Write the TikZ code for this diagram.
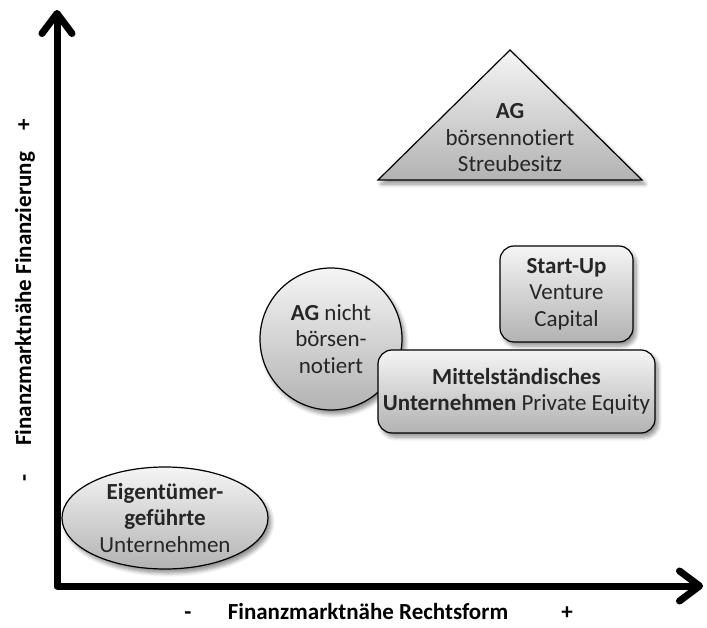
\documentclass[tikz,border=0pt]{standalone}
\usepackage{fontspec}
\setmainfont[Ligatures=NoCommon]{Carlito}
\usetikzlibrary{arrows.meta,shapes.geometric,shadows.blur}
\begin{document}
\begin{tikzpicture}[x=1pt,y=-1pt,
  every node/.style={font=\fontsize{23}{26.5}\selectfont, align=center, text=black!85},
  box/.style={draw=black, line width=1.2pt, top color=black!4, bottom color=black!30,
    blur shadow={shadow xshift=3pt, shadow yshift=-4pt, shadow blur radius=4pt, shadow blur steps=6, shadow opacity=45}},
  lbl/.style={font=\fontsize{23}{26.5}\selectfont\bfseries, text=black, anchor=base, inner sep=0pt},
  axis/.style={line width=7pt, line join=round, {Straight Barb[length=20pt,width=30pt,round]}-{Straight Barb[length=20pt,width=30pt,round]}}
]
\useasboundingbox (0,0) rectangle (707,628);

% triangle
\path[box] (378,180) -- (510,50) -- (642,180) -- cycle;
\node (agb) at (510,138) {\textbf{AG}\\börsennotiert\\Streubesitz};

% Start-Up
\node[box, rounded corners=14pt, minimum width=133pt, minimum height=96pt] (su) at (566.5,294) {\textbf{Start-Up}\\Venture\\Capital};

% circle
\node[box, circle, minimum size=142pt, inner sep=0pt] (agn) at (331,339) {\textbf{AG} nicht\\börsen-\\notiert};

% Mittelstaendisches
\node[box, rounded corners=14pt, minimum width=277pt, minimum height=83pt] (mu) at (516.5,391.5) {\textbf{Mittelständisches}\\\textbf{Unternehmen} Private Equity};

% ellipse
\node[box, ellipse, minimum width=206pt, minimum height=102pt, inner sep=0pt] (eu) at (165,518) {};
\node (eut) at (eu.center) {\textbf{Eigentümer-}\\\textbf{geführte}\\Unternehmen};

% axes
\coordinate (origin) at (57,586);
\coordinate (ytip) at (57,10);
\coordinate (xtip) at (703,586);
\draw[axis] (ytip) -- (origin) -- (xtip);

% axis labels
\node[lbl, rotate=90] (ylab) at (31,299) {Finanzmarktnähe Finanzierung};
\node[lbl, rotate=90] (yplus) at (31,125) {+};
\node[lbl, rotate=90] (yminus) at (31,478) {-};
\node[lbl] (xlab) at (368,619) {Finanzmarktnähe Rechtsform};
\node[lbl] (xminus) at (188,619) {-};
\node[lbl] (xplus) at (567,619) {+};
\end{tikzpicture}
\end{document}
